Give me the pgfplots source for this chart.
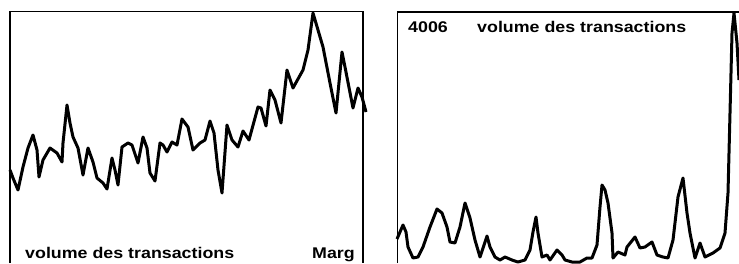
\documentclass[border=0pt]{standalone}
\usepackage{pgfplots}
\pgfplotsset{compat=1.18}
\usepackage{pgfplotstable}
\usepackage{fontspec}
\setmainfont{Liberation Sans}
\pgfplotstableread{
x y
10 170
13 178
18 190
23 167
28 148
33 135
37 150
39 177
43 160
50 148
57 153
62 162
63 143
67 105
70 123
73 137
78 148
83 175
88 148
93 162
97 178
103 183
107 189
112 158
115 170
118 185
122 147
128 143
132 145
138 163
143 137
147 148
150 173
155 181
160 143
163 145
167 152
172 142
177 145
182 119
188 127
193 150
200 143
205 140
210 121
214 133
218 170
222 193
227 125
232 140
238 147
243 131
249 140
258 107
261 108
266 126
270 90
275 100
281 123
287 70
293 88
303 70
308 50
313 13
323 47
330 83
336 113
342 52
345 67
353 108
358 88
362 97
366 112
}\leftdata
\pgfplotstableread{
x y
397 239
400 232
403 225
406 232
408 247
413 258
418 257
423 247
430 227
437 209
442 213
447 227
450 242
455 243
460 227
465 203
470 218
475 240
480 257
483 248
487 236
490 247
495 257
500 260
505 257
512 260
518 262
525 260
530 250
533 232
536 217
538 233
542 257
547 255
550 260
557 250
562 255
565 260
572 262
580 262
587 258
592 258
597 245
600 207
602 185
605 190
608 203
612 233
613 258
618 252
625 255
627 247
635 237
640 248
645 247
652 242
657 255
663 257
668 258
673 240
678 197
683 178
687 213
690 233
695 258
700 243
705 257
713 253
720 248
725 233
728 193
732 33
734 13
737 43
739 80
}\rightdata
\begin{document}
\begin{tikzpicture}
\clip (0,0) rectangle (739pt,263pt);
\begin{axis}[at={(10pt,0pt)}, anchor=south west, scale only axis,
  width=353pt, height=252pt, xmin=10, xmax=363, ymin=11, ymax=263,
  y dir=reverse, hide axis, clip=false]
\addplot[black, line width=3pt, line join=round] table[x=x,y=y] {\leftdata};
\draw[black, line width=1.8pt] (axis cs:10,263) -- (axis cs:10,11.5) -- (axis cs:363,11.5) -- (axis cs:363,263);
\node[anchor=base west, inner sep=0pt, font=\bfseries\fontsize{15.5pt}{16pt}\selectfont, xscale=1.15] at (axis cs:25,258) {volume des transactions};
\node[anchor=base west, inner sep=0pt, font=\bfseries\fontsize{15.5pt}{16pt}\selectfont, xscale=1.15] at (axis cs:312,258) {Marg};
\end{axis}
\begin{axis}[at={(397pt,0pt)}, anchor=south west, scale only axis,
  width=342pt, height=251pt, xmin=397, xmax=739, ymin=12, ymax=263,
  y dir=reverse, hide axis, clip=false]
\addplot[black, line width=3pt, line join=round] table[x=x,y=y] {\rightdata};
\draw[black, line width=1.8pt] (axis cs:397.5,263) -- (axis cs:397.5,12) -- (axis cs:740,12);
\node[anchor=base west, inner sep=0pt, font=\bfseries\fontsize{15.5pt}{16pt}\selectfont, xscale=1.15] at (axis cs:408,32) {4006};
\node[anchor=base west, inner sep=0pt, font=\bfseries\fontsize{15.5pt}{16pt}\selectfont, xscale=1.15] at (axis cs:477,32) {volume des transactions};
\end{axis}
\end{tikzpicture}
\end{document}
